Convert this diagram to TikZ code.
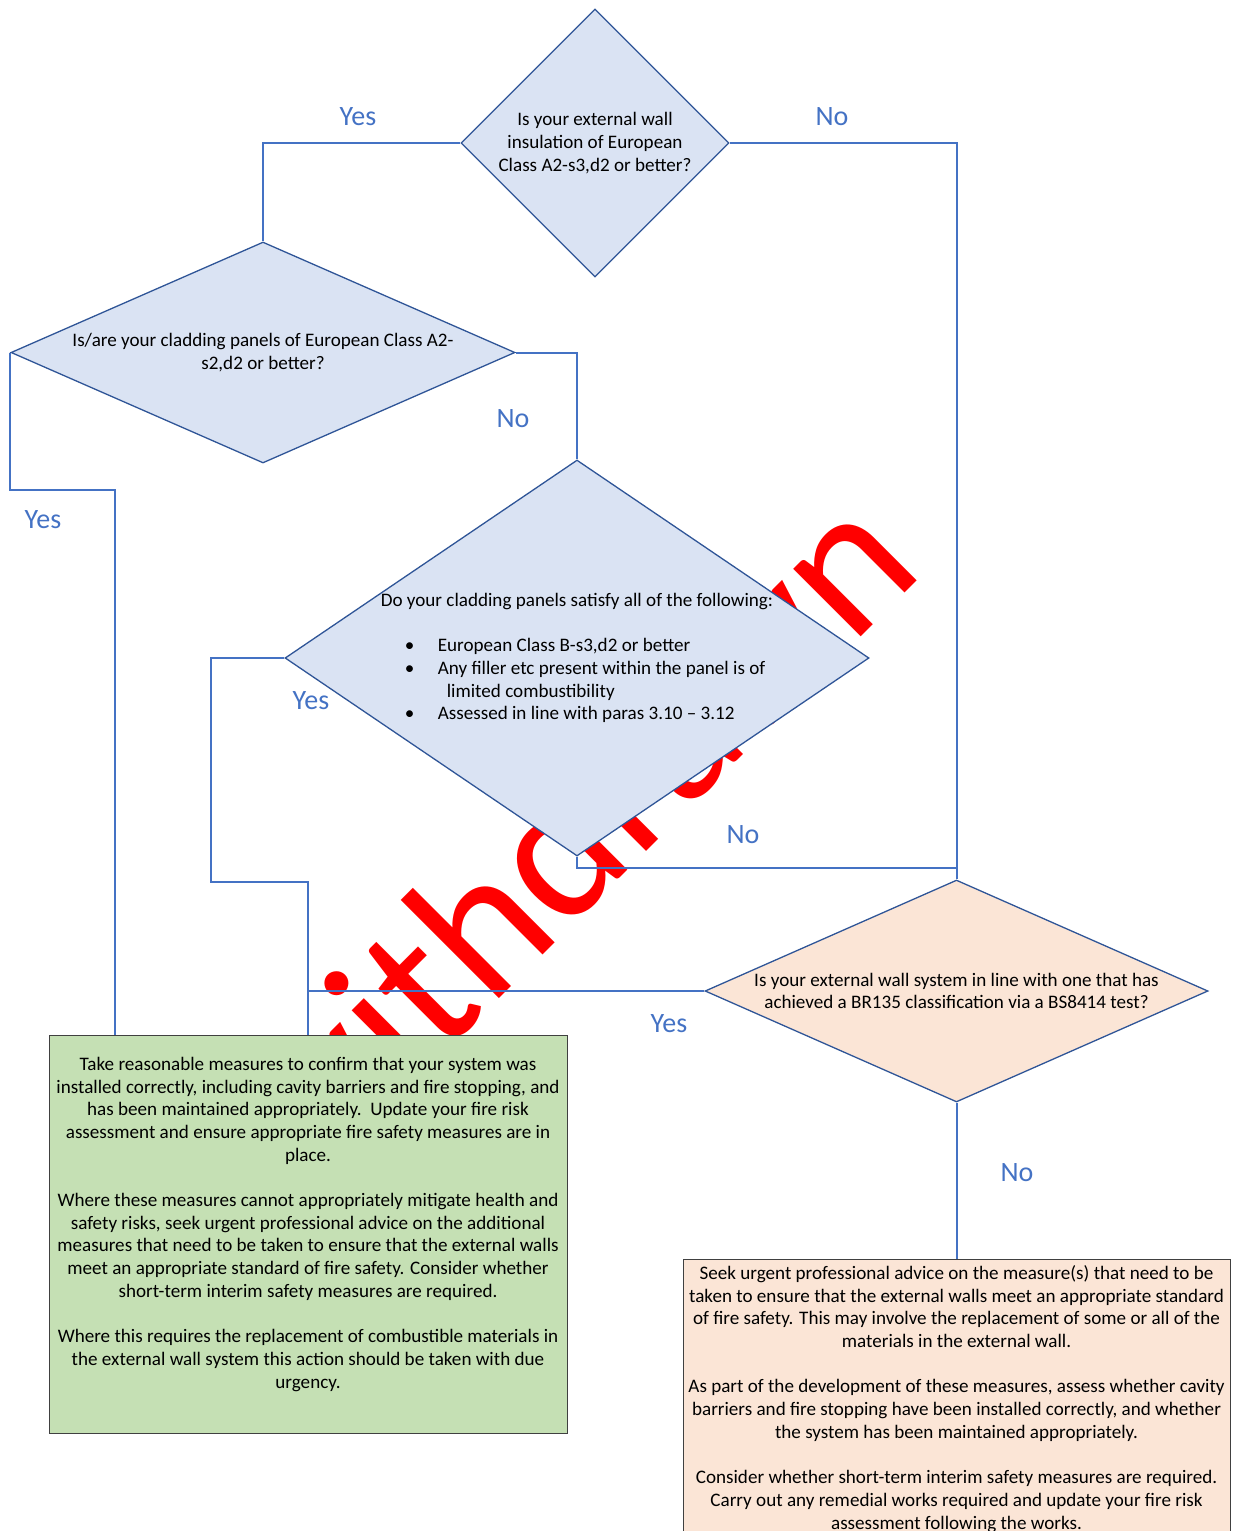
\documentclass[tikz,border=0pt]{standalone}
\usepackage{fontspec}
\setmainfont{Carlito}
\usepackage{tikz}
\usetikzlibrary{shapes.geometric}

\definecolor{qblue}{HTML}{DAE3F3}
\definecolor{qpeach}{HTML}{FBE5D6}
\definecolor{qgreen}{HTML}{C5E0B4}
\definecolor{qedge}{HTML}{2F5597}
\definecolor{flowline}{HTML}{4472C4}
\newcommand\bodysize{\fontsize{19.1}{22.7}\selectfont}
\newcommand\lblsize{\fontsize{28}{34}\selectfont}

\begin{document}
\begin{tikzpicture}[x=1pt, y=-1pt,
  question/.style={diamond, draw=qedge, line width=1.3pt, fill=qblue, inner sep=0pt, align=center, font=\bodysize},
  outcome/.style={rectangle, draw=black!75, line width=1pt, inner sep=0pt, align=center, font=\bodysize},
  link/.style={draw=flowline, line width=2pt},
  answer/.style={text=flowline, font=\lblsize, inner sep=0pt}]
  \useasboundingbox (0,0) rectangle (1234,1531);
  % watermark under everything
  \node[rotate=45, anchor=base west, inner sep=0pt, text=red, font=\fontsize{200}{200}\selectfont] (stamp) at (308,1190) {withdrawn};

  % questions
  \node[question, minimum width=268pt, minimum height=268pt] (insul) at (595,143)
    {Is your external wall\\insulation of European\\Class A2-s3,d2 or better?};
  \node[question, aspect=2.28, minimum width=504pt, minimum height=221pt] (panels) at (263,352.5)
    {Is/are your cladding panels of European Class A2-\\s2,d2 or better?};
  \node[question, aspect=1.475, align=left, minimum width=584pt, minimum height=396pt] (filler) at (577,658)
    {Do your cladding panels satisfy all of the following:\\[22.7pt]
     \hspace*{24pt}\makebox[33pt][l]{\textbullet}European Class B-s3,d2 or better\\
     \hspace*{24pt}\makebox[33pt][l]{\textbullet}Any filler etc present within the panel is of\\
     \hspace*{66pt}limited combustibility\\
     \hspace*{24pt}\makebox[33pt][l]{\textbullet}Assessed in line with paras 3.10 -- 3.12};
  \node[question, fill=qpeach, aspect=2.27, minimum width=503pt, minimum height=222pt] (bstest) at (956.5,991)
    {Is your external wall system in line with one that has\\achieved a BR135 classification via a BS8414 test?};

  % outcomes
  \node[outcome, fill=qgreen, minimum width=518pt, minimum height=398pt] (mitigate) at (308,1234)
    {Take reasonable measures to confirm that your system was\\
     installed correctly, including cavity barriers and fire stopping, and\\
     has been maintained appropriately.\ \ Update your fire risk\\
     assessment and ensure appropriate fire safety measures are in\\
     place.\\[22.7pt]
     Where these measures cannot appropriately mitigate health and\\
     safety risks, seek urgent professional advice on the additional\\
     measures that need to be taken to ensure that the external walls\\
     meet an appropriate standard of fire safety. Consider whether\\
     short-term interim safety measures are required.\\[22.7pt]
     Where this requires the replacement of combustible materials in\\
     the external wall system this action should be taken with due\\
     urgency.\\ \mbox{}};
  \node[outcome, fill=qpeach, minimum width=547pt, inner ysep=6pt, anchor=north] (advice) at (956.5,1259)
    {Seek urgent professional advice on the measure(s) that need to be\\
     taken to ensure that the external walls meet an appropriate standard\\
     of fire safety. This may involve the replacement of some or all of the\\
     materials in the external wall.\\[22.7pt]
     As part of the development of these measures, assess whether cavity\\
     barriers and fire stopping have been installed correctly, and whether\\
     the system has been maintained appropriately.\\[22.7pt]
     Consider whether short-term interim safety measures are required.\\
     Carry out any remedial works required and update your fire risk\\
     assessment following the works.};

  % connectors
  \draw[link] (insul.west) -| (panels.north);
  \draw[link] (insul.east) -| (bstest.north);
  \draw[link] (panels.east) -| (filler.north);
  \draw[link] (panels.west) -- ++(0,137) -| ([xshift=-193pt]mitigate.north);
  \draw[link] (filler.west) -- ++(-73,0) -- ++(0,224) -| (mitigate.north);
  \draw[link] (filler.south) -- ++(0,11) -| (bstest.north);
  \draw[link] (bstest.west) -| (mitigate.north);
  \draw[link] (bstest.south) -- (advice.north);

  % answers
  \node[answer] (yesA) at (358,117) {Yes};
  \node[answer] (noA) at (832,117) {No};
  \node[answer] (noB) at (513,419) {No};
  \node[answer] (yesB) at (43,520) {Yes};
  \node[answer] (yesC) at (311,701) {Yes};
  \node[answer] (noC) at (743,835) {No};
  \node[answer] (yesD) at (669,1024) {Yes};
  \node[answer] (noD) at (1017,1173) {No};
\end{tikzpicture}
\end{document}
